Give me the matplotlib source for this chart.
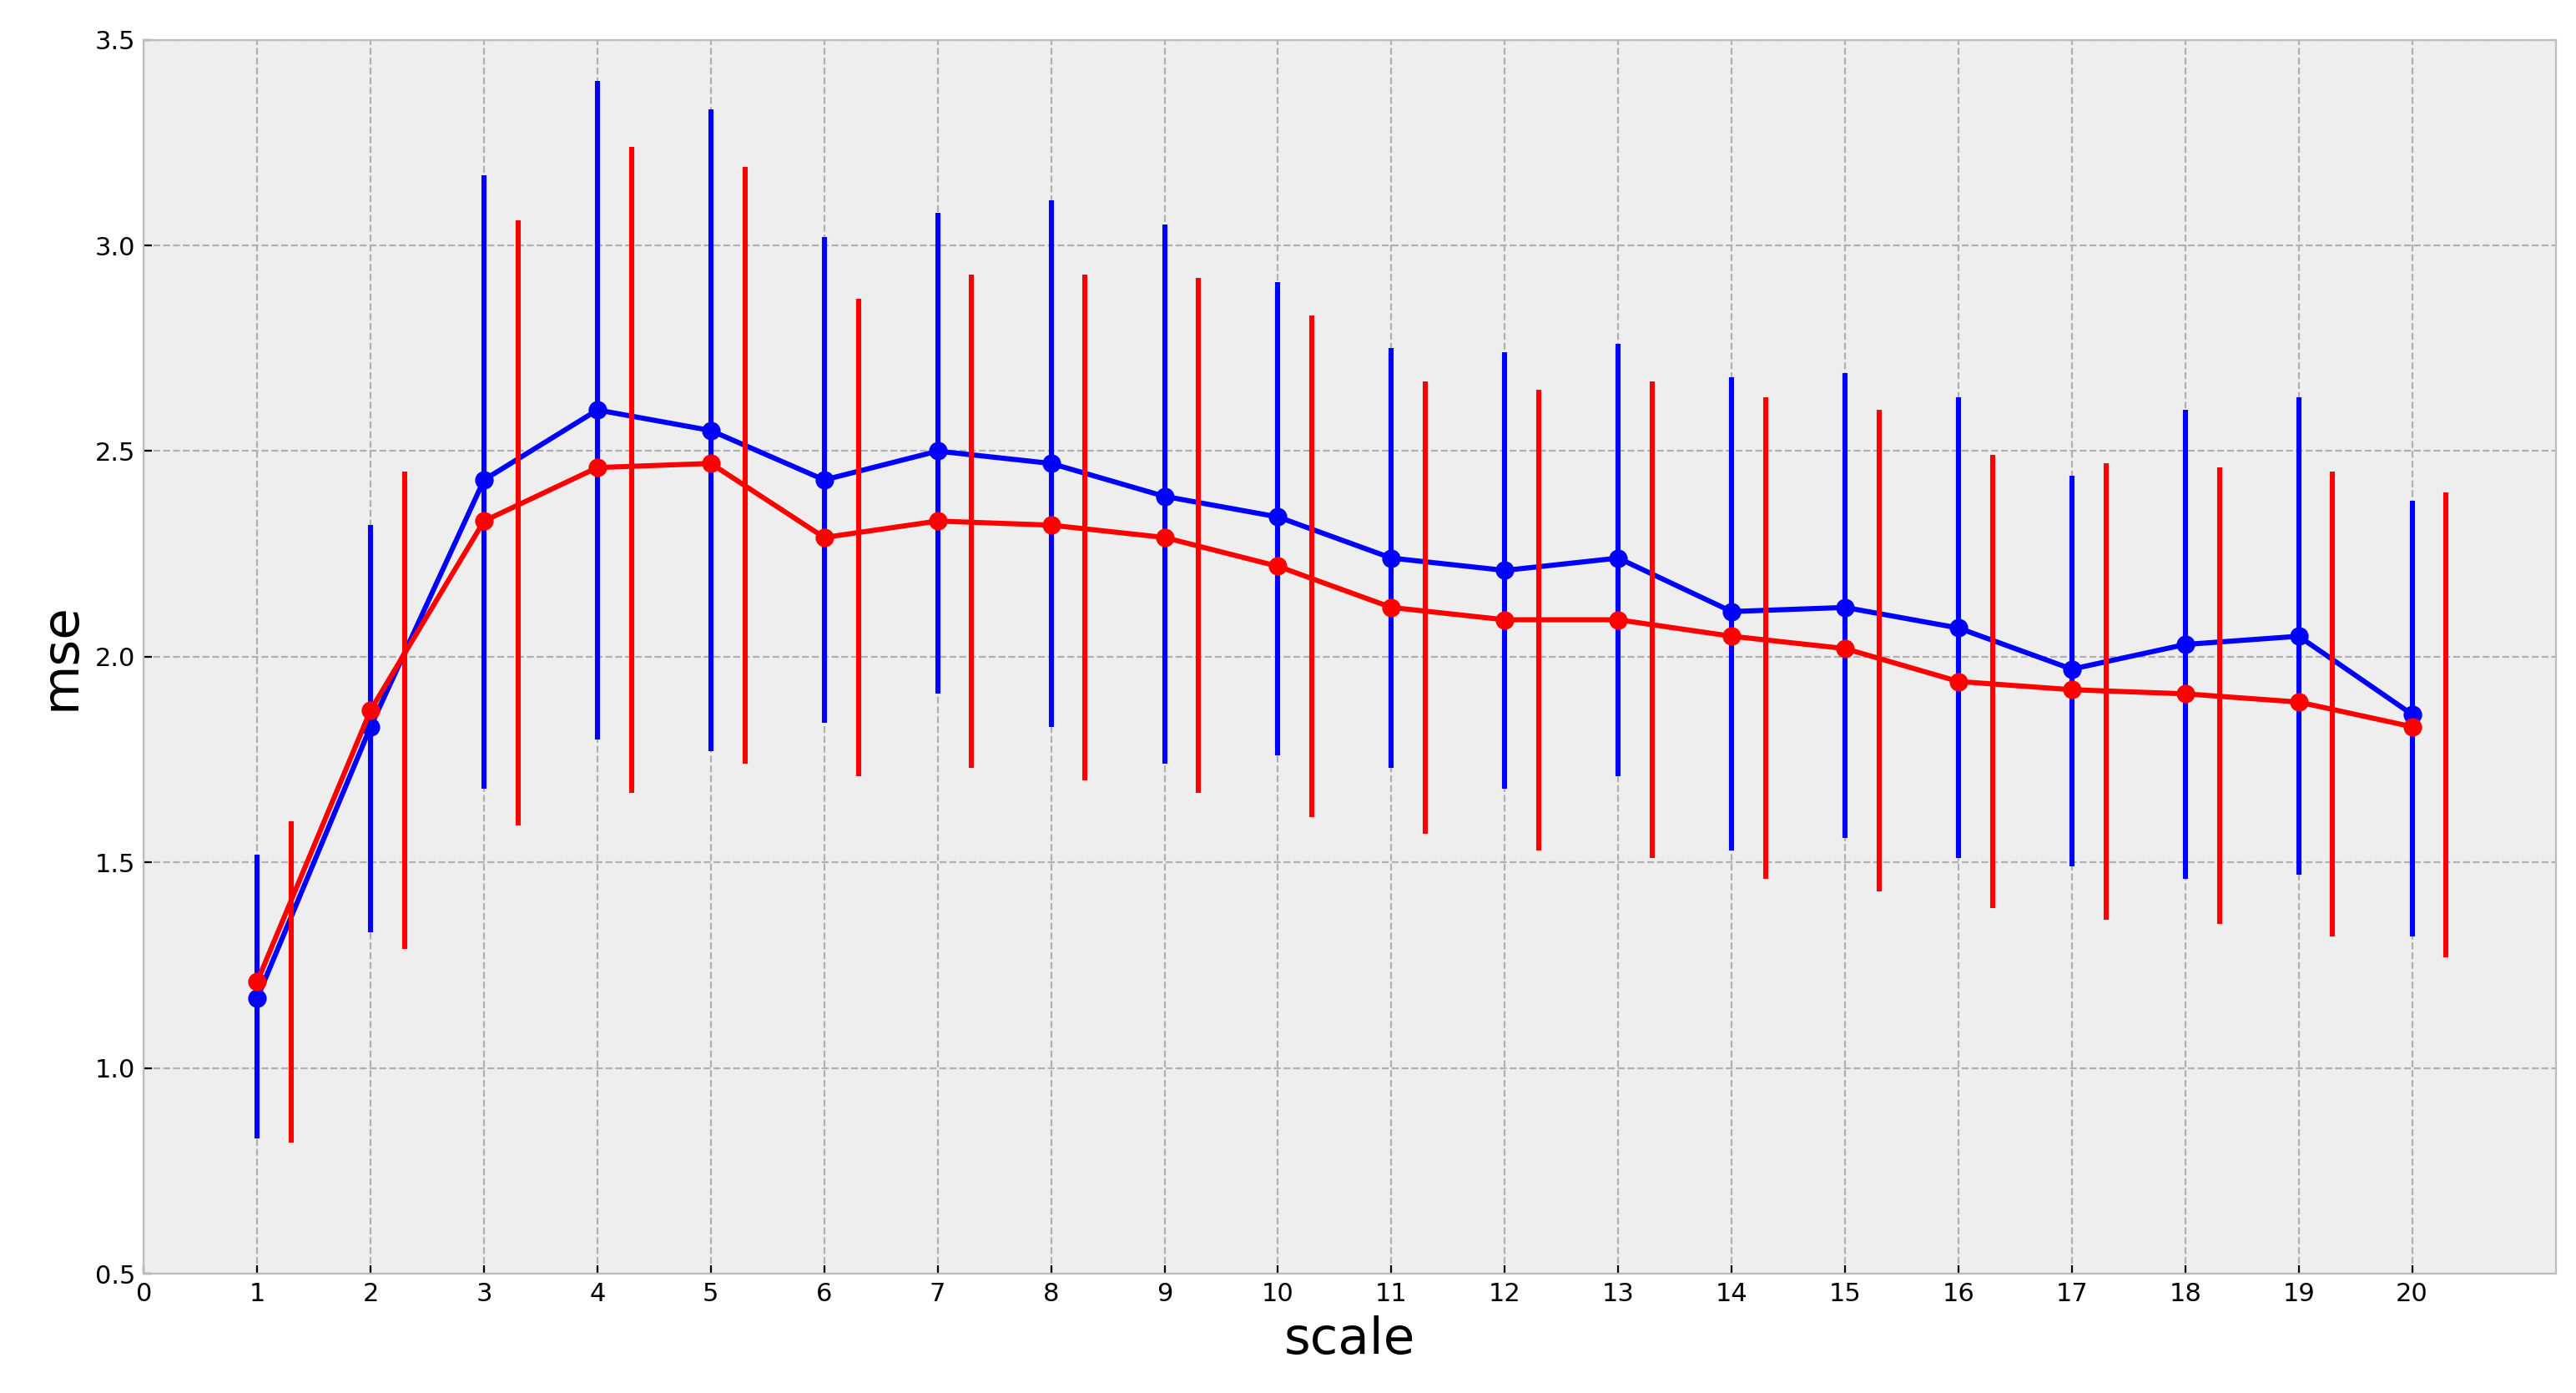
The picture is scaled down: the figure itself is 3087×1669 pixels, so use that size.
import numpy as np
import matplotlib.pyplot as plt

plt.style.use('bmh')

scale = np.arange(1, 21)
blue_mean = [1.17, 1.83, 2.43, 2.60, 2.55, 2.43, 2.50, 2.47, 2.39, 2.34,
             2.24, 2.21, 2.24, 2.11, 2.12, 2.07, 1.97, 2.03, 2.05, 1.86]
blue_top = [1.52, 2.32, 3.17, 3.40, 3.33, 3.02, 3.08, 3.11, 3.05, 2.91,
            2.75, 2.74, 2.76, 2.68, 2.69, 2.63, 2.44, 2.60, 2.63, 2.38]
blue_bot = [0.83, 1.33, 1.68, 1.80, 1.77, 1.84, 1.91, 1.83, 1.74, 1.76,
            1.73, 1.68, 1.71, 1.53, 1.56, 1.51, 1.49, 1.46, 1.47, 1.32]
red_mean = [1.21, 1.87, 2.33, 2.46, 2.47, 2.29, 2.33, 2.32, 2.29, 2.22,
            2.12, 2.09, 2.09, 2.05, 2.02, 1.94, 1.92, 1.91, 1.89, 1.83]
red_top = [1.60, 2.45, 3.06, 3.24, 3.19, 2.87, 2.93, 2.93, 2.92, 2.83,
           2.67, 2.65, 2.67, 2.63, 2.60, 2.49, 2.47, 2.46, 2.45, 2.40]
red_bot = [0.82, 1.29, 1.59, 1.67, 1.74, 1.71, 1.73, 1.70, 1.67, 1.61,
           1.57, 1.53, 1.51, 1.46, 1.43, 1.39, 1.36, 1.35, 1.32, 1.27]

bm, rm = np.array(blue_mean), np.array(red_mean)

fig = plt.figure(figsize=(15.435, 8.345), dpi=200)
ax = fig.add_axes([0.0558, 0.0855, 0.9365, 0.886])

# blue: error bars at integer x
ax.vlines(scale, blue_bot, blue_top, color='blue', lw=2.2)
ax.plot(scale, bm, 'o-', color='blue', lw=2.2, ms=7)
# red: error bars shifted right, line at integer x
ax.vlines(scale + 0.3, red_bot, red_top, color='red', lw=2.2)
ax.plot(scale, rm, 'o-', color='red', lw=2.2, ms=7)

ax.set_xlim(0, 21.27)
ax.set_ylim(0.5, 3.5)
ax.set_xticks(range(0, 21))
ax.tick_params(labelsize=11)
ax.grid(True, linestyle='--', color='#b0b0b0', lw=0.8)
ax.set_xlabel('scale', fontsize=22)
ax.set_ylabel('mse', fontsize=22)

fig.savefig('out.png', dpi=200)
